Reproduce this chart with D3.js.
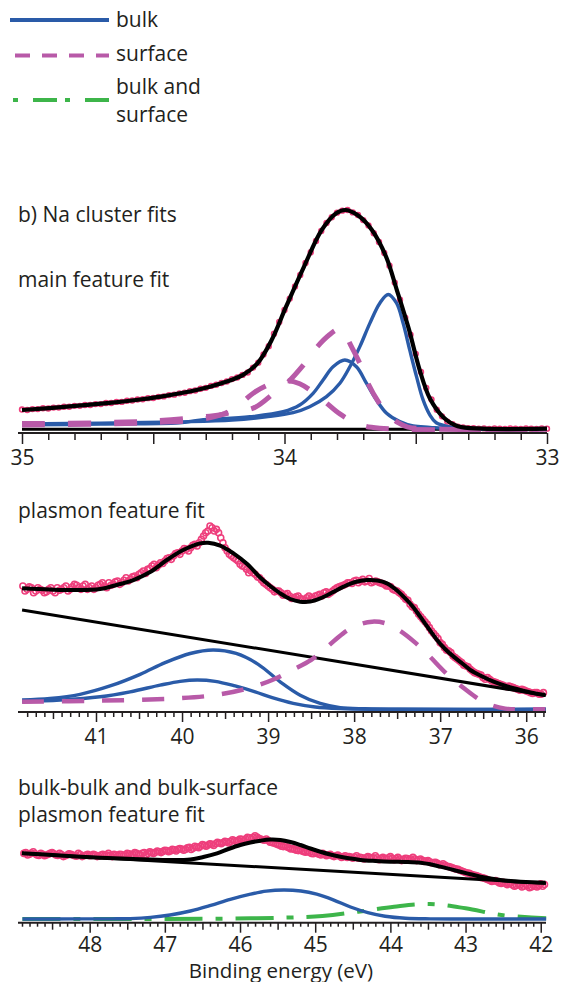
<!DOCTYPE html>
<html>
<head>
<meta charset="utf-8">
<script src="https://cdn.jsdelivr.net/npm/d3@7"></script>
<style>
  body { margin: 0; background: #fff; }
  text { font-family: "Open Sans", "Noto Sans", sans-serif; fill: #231f20; }
</style>
</head>
<body>
<svg id="chart" width="561" height="982"></svg>
<script>
// ---- values: [binding energy (eV), intensity (arb.)] ----

// b) main feature
var mainTicks = [35, 34, 33];
var mainData = [[35.00,0.090],[34.98,0.088],[34.96,0.092],[34.94,0.092],[34.92,0.096],[34.90,0.095],[34.88,0.099],[34.86,0.099],[34.84,0.103],[34.82,0.103],[34.80,0.107],[34.78,0.107],[34.76,0.111],[34.74,0.111],[34.72,0.115],[34.70,0.115],[34.68,0.120],[34.66,0.120],[34.64,0.125],[34.62,0.125],[34.60,0.130],[34.58,0.131],[34.56,0.136],[34.54,0.137],[34.52,0.142],[34.50,0.143],[34.48,0.148],[34.46,0.150],[34.44,0.156],[34.42,0.158],[34.40,0.164],[34.38,0.167],[34.36,0.174],[34.34,0.177],[34.32,0.185],[34.30,0.189],[34.28,0.198],[34.26,0.203],[34.24,0.211],[34.22,0.218],[34.20,0.229],[34.18,0.236],[34.16,0.248],[34.14,0.259],[34.12,0.281],[34.10,0.304],[34.08,0.341],[34.06,0.379],[34.04,0.436],[34.02,0.489],[34.00,0.544],[33.98,0.596],[33.96,0.651],[33.94,0.704],[33.92,0.758],[33.90,0.807],[33.88,0.859],[33.86,0.904],[33.84,0.941],[33.82,0.967],[33.80,0.988],[33.78,0.997],[33.76,1.000],[33.74,0.989],[33.72,0.977],[33.70,0.954],[33.68,0.929],[33.66,0.894],[33.64,0.854],[33.62,0.804],[33.60,0.746],[33.58,0.669],[33.56,0.591],[33.54,0.509],[33.52,0.431],[33.50,0.344],[33.48,0.261],[33.46,0.189],[33.44,0.136],[33.42,0.089],[33.40,0.059],[33.38,0.035],[33.36,0.023],[33.34,0.012],[33.32,0.009],[33.30,0.005],[33.28,0.005],[33.26,0.003],[33.24,0.004],[33.22,0.002],[33.20,0.004],[33.18,0.003],[33.16,0.002],[33.14,0.004],[33.12,0.003],[33.10,0.002],[33.08,0.004],[33.06,0.003],[33.04,0.002],[33.02,0.004],[33.00,0.003]];
var mainFit = [[35.00,0.088],[34.85,0.101],[34.676,0.119],[34.55,0.136],[34.471,0.149],[34.335,0.179],[34.240,0.210],[34.158,0.248],[34.103,0.301],[34.049,0.407],[33.994,0.559],[33.926,0.741],[33.858,0.909],[33.803,0.985],[33.769,1.000],[33.722,0.977],[33.667,0.909],[33.613,0.787],[33.572,0.635],[33.527,0.460],[33.485,0.270],[33.446,0.140],[33.395,0.055],[33.340,0.014],[33.245,0.003],[33.00,0.003]];
var mainBackground = [[35.00,0],[33.00,0]];
var mainBulk32 = [[35.00,0.024],[34.70,0.028],[34.40,0.034],[34.20,0.042],[34.07,0.057],[33.967,0.076],[33.904,0.103],[33.840,0.149],[33.789,0.210],[33.751,0.285],[33.713,0.377],[33.675,0.483],[33.637,0.575],[33.605,0.615],[33.573,0.575],[33.548,0.483],[33.523,0.362],[33.497,0.240],[33.472,0.134],[33.446,0.065],[33.422,0.030],[33.367,0.010],[33.313,0.002],[33.00,0]];
var mainBulk12 = [[35.00,0.020],[34.70,0.024],[34.40,0.030],[34.323,0.042],[34.132,0.057],[34.005,0.080],[33.942,0.111],[33.891,0.164],[33.853,0.225],[33.815,0.285],[33.770,0.316],[33.726,0.285],[33.688,0.210],[33.650,0.134],[33.611,0.073],[33.561,0.035],[33.510,0.015],[33.446,0.009],[33.35,0.002],[33.00,0]];
var mainSurf32 = [[35.00,0.026],[34.704,0.030],[34.475,0.040],[34.285,0.060],[34.228,0.070],[34.113,0.100],[34.045,0.160],[33.991,0.210],[33.930,0.290],[33.880,0.370],[33.830,0.430],[33.796,0.456],[33.775,0.452],[33.751,0.392],[33.707,0.285],[33.682,0.210],[33.640,0.120],[33.612,0.075],[33.567,0.030],[33.530,0.010],[33.45,0.002],[33.00,0]];
var mainSurf12 = [[35.00,0.020],[34.70,0.024],[34.475,0.032],[34.32,0.045],[34.228,0.072],[34.170,0.115],[34.113,0.170],[34.045,0.210],[33.991,0.222],[33.942,0.208],[33.892,0.170],[33.846,0.126],[33.789,0.070],[33.713,0.021],[33.637,0.005],[33.00,0]];

// plasmon feature
var plasTicks = [41, 40, 39, 38, 37, 36];
var plasData = [[41.85,0.74],[41.80,0.72],[41.75,0.73],[41.70,0.71],[41.65,0.72],[41.60,0.70],[41.55,0.72],[41.50,0.71],[41.45,0.73],[41.40,0.72],[41.35,0.74],[41.30,0.72],[41.25,0.75],[41.20,0.73],[41.15,0.74],[41.10,0.72],[41.05,0.74],[41.00,0.73],[40.95,0.75],[40.90,0.74],[40.85,0.76],[40.80,0.75],[40.75,0.77],[40.70,0.76],[40.65,0.79],[40.60,0.78],[40.55,0.80],[40.50,0.81],[40.45,0.83],[40.40,0.84],[40.35,0.86],[40.30,0.85],[40.25,0.88],[40.20,0.89],[40.15,0.91],[40.10,0.92],[40.05,0.94],[40.00,0.95],[39.95,0.96],[39.90,0.97],[39.85,0.99],[39.80,1.00],[39.75,1.04],[39.70,1.07],[39.65,1.09],[39.60,1.08],[39.55,1.03],[39.50,0.97],[39.45,0.93],[39.40,0.91],[39.35,0.89],[39.30,0.86],[39.25,0.84],[39.20,0.83],[39.15,0.81],[39.10,0.79],[39.05,0.76],[39.00,0.74],[38.95,0.72],[38.90,0.71],[38.85,0.70],[38.80,0.69],[38.75,0.68],[38.70,0.67],[38.65,0.68],[38.60,0.66],[38.55,0.67],[38.50,0.67],[38.45,0.68],[38.40,0.69],[38.35,0.70],[38.30,0.69],[38.25,0.71],[38.20,0.73],[38.15,0.74],[38.10,0.75],[38.05,0.76],[38.00,0.77],[37.95,0.76],[37.90,0.78],[37.85,0.77],[37.80,0.76],[37.75,0.77],[37.70,0.76],[37.65,0.75],[37.60,0.74],[37.55,0.72],[37.50,0.71],[37.45,0.69],[37.40,0.66],[37.35,0.63],[37.30,0.61],[37.25,0.57],[37.20,0.54],[37.15,0.51],[37.10,0.47],[37.05,0.44],[37.00,0.40],[36.95,0.37],[36.90,0.35],[36.85,0.32],[36.80,0.30],[36.75,0.28],[36.70,0.26],[36.65,0.24],[36.60,0.22],[36.55,0.21],[36.50,0.19],[36.45,0.19],[36.40,0.17],[36.35,0.16],[36.30,0.15],[36.25,0.14],[36.20,0.14],[36.15,0.13],[36.10,0.12],[36.05,0.12],[36.00,0.11],[35.95,0.10],[35.90,0.10],[35.85,0.09],[35.80,0.10]];
var plasDataMid = [[41.825,0.71],[41.775,0.735],[41.725,0.70],[41.675,0.73],[41.625,0.715],[41.575,0.705],[41.525,0.73],[41.475,0.70],[41.425,0.715],[41.375,0.73],[41.325,0.71],[41.275,0.735],[41.225,0.745],[41.175,0.72],[41.125,0.75],[41.075,0.73],[41.025,0.72],[40.975,0.745],[40.925,0.76],[40.875,0.73],[40.825,0.745],[40.775,0.765],[40.725,0.75],[40.675,0.775],[40.625,0.77],[40.575,0.795],[40.525,0.79],[40.475,0.82],[40.425,0.815],[40.375,0.845],[40.325,0.87],[40.275,0.865],[40.225,0.875],[40.175,0.905],[40.125,0.90],[40.075,0.935],[40.025,0.93],[39.975,0.965],[39.925,0.95],[39.875,0.985],[39.825,0.98],[39.775,1.02],[39.725,1.06],[39.675,1.10],[39.625,1.07],[39.575,1.06],[39.525,1.00],[39.475,0.95],[39.425,0.92],[39.375,0.90],[39.325,0.87],[39.275,0.855],[39.225,0.82],[39.175,0.82],[39.125,0.795],[39.075,0.775],[39.025,0.75],[38.975,0.73],[38.925,0.705],[38.875,0.71],[38.825,0.685],[38.775,0.695],[38.725,0.665],[38.675,0.675],[38.625,0.665],[38.575,0.655],[38.525,0.68],[38.475,0.665],[38.425,0.685],[38.375,0.68],[38.325,0.705],[38.275,0.70],[38.225,0.72],[38.175,0.735],[38.125,0.745],[38.075,0.76],[38.025,0.755],[37.975,0.775],[37.925,0.77],[37.875,0.765],[37.825,0.785],[37.775,0.765],[37.725,0.765],[37.675,0.755],[37.625,0.74],[37.575,0.735],[37.525,0.715],[37.475,0.70],[37.425,0.675],[37.375,0.655],[37.325,0.615],[37.275,0.59],[37.225,0.555],[37.175,0.525],[37.125,0.49],[37.075,0.455],[37.025,0.425],[36.975,0.39],[36.925,0.355],[36.875,0.34],[36.825,0.31],[36.775,0.29],[36.725,0.265],[36.675,0.255],[36.625,0.23],[36.575,0.215],[36.525,0.205],[36.475,0.18],[36.425,0.18],[36.375,0.165],[36.325,0.155],[36.275,0.145],[36.225,0.135],[36.175,0.135],[36.125,0.125],[36.075,0.115],[36.025,0.115],[35.975,0.105],[35.925,0.095],[35.875,0.10],[35.825,0.09]];
var plasFit = [[41.859,0.726],[41.534,0.719],[41.243,0.716],[40.952,0.722],[40.720,0.752],[40.565,0.776],[40.371,0.824],[40.177,0.896],[39.987,0.956],[39.790,0.996],[39.697,1.000],[39.557,0.983],[39.402,0.936],[39.243,0.872],[39.092,0.791],[38.975,0.740],[38.859,0.696],[38.743,0.662],[38.627,0.646],[38.510,0.647],[38.394,0.666],[38.255,0.701],[38.123,0.736],[37.987,0.764],[37.851,0.776],[37.731,0.773],[37.619,0.756],[37.522,0.722],[37.426,0.676],[37.324,0.620],[37.232,0.556],[37.138,0.488],[37.037,0.416],[36.943,0.362],[36.844,0.316],[36.743,0.275],[36.650,0.236],[36.510,0.197],[36.379,0.166],[36.220,0.137],[36.069,0.116],[35.918,0.098],[35.778,0.086]];
var plasBackground = [[41.859,0.596],[35.772,0.083]];
var plasBulkA = [[41.859,0.056],[41.534,0.065],[41.185,0.090],[40.836,0.140],[40.487,0.210],[40.197,0.280],[39.906,0.335],[39.638,0.356],[39.371,0.335],[39.115,0.270],[38.859,0.165],[38.627,0.085],[38.394,0.035],[38.161,0.010],[37.871,0.003],[37.464,0],[35.772,0]];
var plasBulkB = [[41.859,0.046],[41.417,0.055],[40.952,0.075],[40.603,0.105],[40.255,0.145],[40.022,0.168],[39.824,0.176],[39.615,0.168],[39.383,0.140],[39.150,0.105],[38.952,0.070],[38.708,0.036],[38.452,0.014],[38.161,0.004],[37.813,0],[35.772,0]];
var plasSurface = [[41.859,0.046],[40.952,0.052],[40.034,0.066],[39.557,0.090],[39.208,0.130],[38.952,0.176],[38.720,0.235],[38.499,0.296],[38.301,0.380],[38.127,0.456],[37.964,0.505],[37.790,0.526],[37.627,0.515],[37.464,0.470],[37.290,0.400],[37.127,0.320],[36.918,0.210],[36.708,0.120],[36.534,0.055],[36.383,0.020],[36.243,0.004],[36.069,0],[35.778,0]];

// bulk-bulk and bulk-surface plasmon feature
var bbTicks = [48, 47, 46, 45, 44, 43, 42];
var bbData = [[48.85,0.83],[48.80,0.81],[48.75,0.84],[48.70,0.80],[48.65,0.82],[48.60,0.79],[48.55,0.81],[48.50,0.83],[48.45,0.80],[48.40,0.82],[48.35,0.78],[48.30,0.80],[48.25,0.81],[48.20,0.79],[48.15,0.82],[48.10,0.78],[48.05,0.80],[48.00,0.79],[47.95,0.81],[47.90,0.78],[47.85,0.80],[47.80,0.79],[47.75,0.82],[47.70,0.78],[47.65,0.80],[47.60,0.81],[47.55,0.79],[47.50,0.82],[47.45,0.80],[47.40,0.83],[47.35,0.81],[47.30,0.82],[47.25,0.80],[47.20,0.84],[47.15,0.82],[47.10,0.85],[47.05,0.83],[47.00,0.86],[46.95,0.84],[46.90,0.87],[46.85,0.85],[46.80,0.88],[46.75,0.86],[46.70,0.89],[46.65,0.87],[46.60,0.91],[46.55,0.89],[46.50,0.93],[46.45,0.91],[46.40,0.94],[46.35,0.92],[46.30,0.96],[46.25,0.94],[46.20,0.97],[46.15,0.95],[46.10,0.99],[46.05,0.97],[46.00,1.00],[45.95,0.98],[45.90,1.02],[45.85,1.00],[45.80,1.04],[45.75,1.01],[45.70,0.99],[45.65,1.00],[45.60,0.96],[45.55,0.95],[45.50,0.93],[45.45,0.91],[45.40,0.92],[45.35,0.89],[45.30,0.88],[45.25,0.86],[45.20,0.87],[45.15,0.84],[45.10,0.85],[45.05,0.82],[45.00,0.83],[44.95,0.81],[44.90,0.82],[44.85,0.79],[44.80,0.81],[44.75,0.78],[44.70,0.80],[44.65,0.77],[44.60,0.79],[44.55,0.78],[44.50,0.76],[44.45,0.79],[44.40,0.77],[44.35,0.75],[44.30,0.78],[44.25,0.76],[44.20,0.79],[44.15,0.74],[44.10,0.77],[44.05,0.75],[44.00,0.78],[43.95,0.74],[43.90,0.77],[43.85,0.73],[43.80,0.76],[43.75,0.74],[43.70,0.77],[43.65,0.73],[43.60,0.75],[43.55,0.72],[43.50,0.73],[43.45,0.70],[43.40,0.71],[43.35,0.68],[43.30,0.69],[43.25,0.66],[43.20,0.65],[43.15,0.63],[43.10,0.62],[43.05,0.60],[43.00,0.58],[42.95,0.57],[42.90,0.55],[42.85,0.54],[42.80,0.52],[42.75,0.51],[42.70,0.49],[42.65,0.47],[42.60,0.48],[42.55,0.45],[42.50,0.46],[42.45,0.43],[42.40,0.45],[42.35,0.41],[42.30,0.44],[42.25,0.40],[42.20,0.43],[42.15,0.39],[42.10,0.42],[42.05,0.40],[42.00,0.44],[41.95,0.43]];
var bbDataMid = [[48.875,0.82],[48.825,0.80],[48.775,0.825],[48.725,0.815],[48.675,0.795],[48.625,0.81],[48.575,0.80],[48.525,0.82],[48.475,0.815],[48.425,0.795],[48.375,0.805],[48.325,0.79],[48.275,0.815],[48.225,0.80],[48.175,0.785],[48.125,0.805],[48.075,0.79],[48.025,0.81],[47.975,0.795],[47.925,0.80],[47.875,0.785],[47.825,0.81],[47.775,0.80],[47.725,0.795],[47.675,0.81],[47.625,0.79],[47.575,0.805],[47.525,0.80],[47.475,0.815],[47.425,0.81],[47.375,0.82],[47.325,0.80],[47.275,0.83],[47.225,0.82],[47.175,0.83],[47.125,0.835],[47.075,0.84],[47.025,0.845],[46.975,0.855],[46.925,0.85],[46.875,0.865],[46.825,0.87],[46.775,0.875],[46.725,0.87],[46.675,0.895],[46.625,0.885],[46.575,0.90],[46.525,0.91],[46.475,0.92],[46.425,0.925],[46.375,0.935],[46.325,0.94],[46.275,0.95],[46.225,0.955],[46.175,0.965],[46.125,0.97],[46.075,0.98],[46.025,0.985],[45.975,0.995],[45.925,1.00],[45.875,1.015],[45.825,1.02],[45.775,1.025],[45.725,1.00],[45.675,0.985],[45.625,0.98],[45.575,0.955],[45.525,0.94],[45.475,0.925],[45.425,0.905],[45.375,0.90],[45.325,0.875],[45.275,0.87],[45.225,0.855],[45.175,0.85],[45.125,0.835],[45.075,0.835],[45.025,0.815],[44.975,0.82],[44.925,0.80],[44.875,0.805],[44.825,0.80],[44.775,0.79],[44.725,0.79],[44.675,0.785],[44.625,0.78],[44.575,0.77],[44.525,0.775],[44.475,0.775],[44.425,0.76],[44.375,0.765],[44.325,0.765],[44.275,0.77],[44.225,0.765],[44.175,0.765],[44.125,0.755],[44.075,0.76],[44.025,0.765],[43.975,0.76],[43.925,0.755],[43.875,0.75],[43.825,0.745],[43.775,0.755],[43.725,0.75],[43.675,0.75],[43.625,0.74],[43.575,0.735],[43.525,0.725],[43.475,0.715],[43.425,0.705],[43.375,0.695],[43.325,0.675],[43.275,0.675],[43.225,0.655],[43.175,0.64],[43.125,0.625],[43.075,0.61],[43.025,0.59],[42.975,0.575],[42.925,0.56],[42.875,0.545],[42.825,0.53],[42.775,0.515],[42.725,0.50],[42.675,0.48],[42.625,0.475],[42.575,0.465],[42.525,0.445],[42.475,0.45],[42.425,0.44],[42.375,0.425],[42.325,0.42],[42.275,0.425],[42.225,0.41],[42.175,0.415],[42.125,0.40],[42.075,0.41],[42.025,0.42],[41.975,0.41]];
var bbFit = [[48.901,0.821],[48.391,0.794],[47.859,0.766],[47.420,0.750],[46.971,0.738],[46.660,0.744],[46.488,0.775],[46.306,0.821],[46.155,0.875],[45.996,0.925],[45.862,0.956],[45.729,0.979],[45.596,0.993],[45.463,0.988],[45.330,0.963],[45.197,0.925],[45.064,0.881],[44.931,0.841],[44.798,0.806],[44.665,0.779],[44.532,0.756],[44.399,0.738],[44.199,0.725],[43.999,0.716],[43.799,0.713],[43.600,0.704],[43.467,0.684],[43.334,0.654],[43.201,0.623],[43.068,0.591],[42.935,0.560],[42.802,0.529],[42.669,0.506],[42.536,0.488],[42.403,0.475],[42.270,0.466],[42.110,0.459],[41.937,0.454]];
var bbBackground = [[48.901,0.821],[41.93,0.446]];
var bbBulk = [[48.894,0],[48.20,0.001],[47.70,0.002],[47.46,0.005],[47.19,0.020],[46.93,0.050],[46.66,0.100],[46.39,0.170],[46.13,0.245],[45.86,0.310],[45.65,0.348],[45.42,0.363],[45.19,0.350],[44.98,0.310],[44.76,0.240],[44.53,0.150],[44.30,0.080],[44.07,0.035],[43.80,0.010],[43.47,0.002],[42.90,0],[41.928,0]];
var bbMixed = [[48.894,0],[47.143,0],[45.857,0.008],[44.904,0.038],[44.428,0.091],[43.951,0.154],[43.476,0.188],[43.000,0.134],[42.523,0.050],[41.928,0.008]];

var legendLabels = [["bulk"], ["surface"], ["bulk and", "surface"]];

// ---- drawing ----
var svg = d3.select("#chart");
var ink = "#231f20", blue = "#2a5ba8", mauve = "#b85aa8", green = "#3db54a", rose = "#ee3e7c";

function curve(g, x, y, data, color, width, dash) {
  var line = d3.line()
    .x(d => x(d[0]))
    .y(d => y(d[1]))
    .curve(d3.curveCatmullRom.alpha(0.5));
  g.append("path")
    .datum(data)
    .attr("fill", "none")
    .attr("stroke", color)
    .attr("stroke-width", width)
    .attr("stroke-dasharray", dash || null)
    .attr("stroke-linejoin", "round")
    .attr("d", line);
}

function points(g, x, y, data, r) {
  g.append("g").selectAll("circle")
    .data(data)
    .join("circle")
    .attr("cx", d => x(d[0]))
    .attr("cy", d => y(d[1]))
    .attr("r", r)
    .attr("fill", "none")
    .attr("stroke", rose)
    .attr("stroke-width", 1.6);
}

// axis with minor (0.1), half (0.5) and labelled ticks
function axis(x, yPos, labels, lens, labelY) {
  var lo = d3.min(x.domain()), hi = d3.max(x.domain());
  var tenths = d3.range(Math.ceil(lo * 10), Math.floor(hi * 10) + 1).map(v => v / 10);
  var minor = tenths.filter(v => Math.abs(v * 2 - Math.round(v * 2)) > 1e-6);
  var half = tenths.filter(v => Math.abs(v * 2 - Math.round(v * 2)) < 1e-6 && Math.abs(v - Math.round(v)) > 1e-6);
  var g = svg.append("g").attr("transform", `translate(0,${yPos})`);
  g.append("g").call(d3.axisBottom(x).tickValues(minor).tickSize(lens[0]).tickFormat(""));
  g.append("g").call(d3.axisBottom(x).tickValues(half).tickSize(lens[1]).tickFormat(""));
  g.append("g").call(d3.axisBottom(x).tickValues(labels).tickSize(lens[2]).tickFormat(d3.format("d")));
  g.selectAll(".domain").remove();
  g.selectAll(".tick line").attr("stroke", ink).attr("stroke-width", 1.5);
  g.selectAll(".tick text")
    .attr("y", labelY).attr("dy", 0)
    .attr("font-size", 21)
    .attr("font-family", null)
    .attr("fill", ink);
  g.append("line")
    .attr("x1", x.range()[0] - 4).attr("x2", x.range()[1])
    .attr("stroke", ink).attr("stroke-width", 2);
}

function label(txt, xPos, yPos, anchor, size) {
  svg.append("text")
    .attr("x", xPos).attr("y", yPos)
    .attr("text-anchor", anchor || "start")
    .attr("font-size", size || 21)
    .text(txt);
}

// legend
var legendStyles = [
  {color: blue, dash: null, x1: 10},
  {color: mauve, dash: "15,12", x1: 15},
  {color: green, dash: "5,15,24,8", x1: 13}
];
var legendRows = [20, 55.5, 100];
var legendText = [[26.5], [61], [94, 122]];
legendLabels.forEach(function(lines, i) {
  svg.append("line")
    .attr("x1", legendStyles[i].x1).attr("x2", 109)
    .attr("y1", legendRows[i]).attr("y2", legendRows[i])
    .attr("stroke", legendStyles[i].color)
    .attr("stroke-width", 4)
    .attr("stroke-dasharray", legendStyles[i].dash);
  lines.forEach(function(t, j) { label(t, 116, legendText[i][j]); });
});

// panel 1: main feature
var x1 = d3.scaleLinear().domain([35, 33]).range([22, 547]);
var y1 = d3.scaleLinear().domain([0, 1]).range([429.3, 210]);
var p1 = svg.append("g");
axis(x1, 433, mainTicks, [7, 11, 11], 32);
points(p1, x1, y1, mainData, 2.4);
curve(p1, x1, y1, mainBackground, "#000", 3);
curve(p1, x1, y1, mainBulk32, blue, 3.4);
curve(p1, x1, y1, mainBulk12, blue, 3.4);
curve(p1, x1, y1, mainSurf32, mauve, 5, "23,23");
curve(p1, x1, y1, mainSurf12, mauve, 5, "23,23");
curve(p1, x1, y1, mainFit, "#000", 4.2);
label("b) Na cluster fits", 18, 221.7);
label("main feature fit", 18, 286.7);

// panel 2: plasmon feature
var x2 = d3.scaleLinear().domain([41.86, 35.77]).range([22, 546]);
var y2 = d3.scaleLinear().domain([0, 1]).range([709.3, 542.7]);
var p2 = svg.append("g");
axis(x2, 712, plasTicks, [5, 7, 10], 32);
points(p2, x2, y2, plasData.concat(plasDataMid), 3);
curve(p2, x2, y2, plasBackground, "#000", 3);
curve(p2, x2, y2, plasFit, "#000", 4);
curve(p2, x2, y2, plasBulkA, blue, 3.4);
curve(p2, x2, y2, plasBulkB, blue, 3.4);
curve(p2, x2, y2, plasSurface, mauve, 4.5, "22,18");
label("plasmon feature fit", 18, 518);

// panel 3: bulk-bulk and bulk-surface plasmons
var x3 = d3.scaleLinear().domain([48.9, 41.93]).range([22, 546]);
var y3 = d3.scaleLinear().domain([0, 1]).range([919, 839]);
var p3 = svg.append("g");
axis(x3, 922.7, bbTicks, [4, 7, 10], 29.5);
points(p3, x3, y3, bbData.concat(bbDataMid), 3);
curve(p3, x3, y3, bbBackground, "#000", 3);
curve(p3, x3, y3, bbFit, "#000", 4);
curve(p3, x3, y3, bbMixed, green, 4, "38,13,7,13");
curve(p3, x3, y3, bbBulk, blue, 3.4);
label("bulk-bulk and bulk-surface", 18, 795);
label("plasmon feature fit", 18, 821.7);
label("Binding energy (eV)", 281, 977.5, "middle", 20.5);
</script>
</body>
</html>
